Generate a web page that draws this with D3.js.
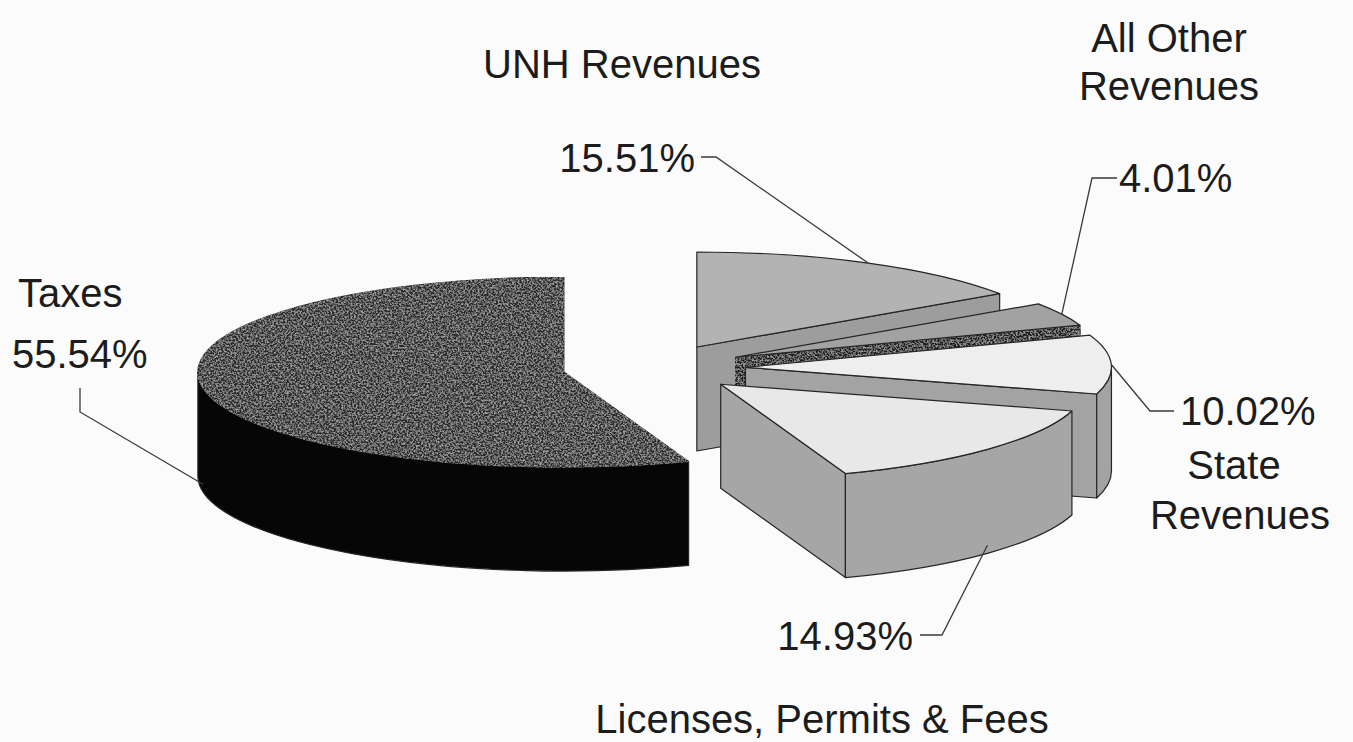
<!DOCTYPE html>
<html>
<head>
<meta charset="utf-8">
<script src="https://cdn.jsdelivr.net/npm/d3@7"></script>
<style>
  html, body { margin: 0; padding: 0; background: #fbfbfb; }
  svg { display: block; }
  text { font-family: "Liberation Sans", Arial, sans-serif; font-size: 40px; fill: #1c1c1c; }
</style>
</head>
<body>
<svg id="chart"></svg>
<script>
const width = 1353;
const height = 742;

// slices listed clockwise from the back of the pie
const categories = ["UNH Revenues", "All Other Revenues", "State Revenues", "Licenses, Permits & Fees", "Taxes"];
const shares = [15.51, 4.01, 10.02, 14.93, 55.54];
const pctLabels = ["15.51%", "4.01%", "10.02%", "14.93%", "55.54%"];

const topColors = ["#b3b3b3", "#a2a2a2", "#eeeeee", "#e8e8e8", "#2c2c2c"];
const sideColors = ["#9d9d9d", "#1a1a1a", "#a3a3a3", "#a6a6a6", "#060606"];

// pie geometry
const cx0 = 654, cy0 = 368;
const rx = 366, ry = 95, depth = 104;
const explode = 0.25;

const svg = d3.select("#chart")
    .attr("width", width)
    .attr("height", height);

const defs = svg.append("defs");
const speck = defs.append("filter").attr("id", "speck")
    .attr("x", 0).attr("y", 0).attr("width", 1).attr("height", 1);
speck.append("feTurbulence")
    .attr("type", "fractalNoise").attr("baseFrequency", 0.55)
    .attr("numOctaves", 3).attr("seed", 7).attr("result", "n");
speck.append("feColorMatrix").attr("in", "n").attr("type", "matrix")
    .attr("values", "0 0 0 0 0.38  0 0 0 0 0.38  0 0 0 0 0.38  2.6 0 0 0 -1.05")
    .attr("result", "g");
speck.append("feComposite").attr("in", "g").attr("in2", "SourceGraphic")
    .attr("operator", "in").attr("result", "m");
const merge = speck.append("feMerge");
merge.append("feMergeNode").attr("in", "SourceGraphic");
merge.append("feMergeNode").attr("in", "m");

const pie = d3.pie().sort(null).value(d => d)(shares);

function centerOf(s) {
    const m = (s.startAngle + s.endAngle) / 2;
    return [cx0 + explode * rx * Math.sin(m), cy0 - explode * ry * Math.cos(m)];
}
function rim(c, a, dy = 0) {
    return [c[0] + rx * Math.sin(a), c[1] - ry * Math.cos(a) + dy];
}

function topPath(c, a0, a1) {
    const p0 = rim(c, a0), p1 = rim(c, a1);
    const large = a1 - a0 > Math.PI ? 1 : 0;
    return `M${c[0]},${c[1]}L${p0[0]},${p0[1]}A${rx},${ry} 0 ${large} 1 ${p1[0]},${p1[1]}Z`;
}
function sidePath(c, a0, a1) {
    const p0 = rim(c, a0), p1 = rim(c, a1);
    const q0 = rim(c, a0, depth), q1 = rim(c, a1, depth);
    const large = a1 - a0 > Math.PI ? 1 : 0;
    return `M${p0[0]},${p0[1]}A${rx},${ry} 0 ${large} 1 ${p1[0]},${p1[1]}` +
        `L${q1[0]},${q1[1]}A${rx},${ry} 0 ${large} 0 ${q0[0]},${q0[1]}Z`;
}
function facePath(c, a) {
    const p = rim(c, a), q = rim(c, a, depth);
    return `M${c[0]},${c[1]}L${p[0]},${p[1]}L${q[0]},${q[1]}L${c[0]},${c[1] + depth}Z`;
}

const g = svg.append("g");

pie.forEach((s, i) => {
    const c = centerOf(s);
    const a0 = s.startAngle, a1 = s.endAngle;
    const slice = g.append("g").attr("class", "slice");
    const stroke = "#262626";
    const speckled = i === 1 || i === 4;

    // radial faces turned toward the viewer
    if (Math.sin(a0) < -1e-6) {
        slice.append("path").attr("d", facePath(c, a0))
            .attr("fill", sideColors[i]).attr("stroke", stroke).attr("stroke-width", 1.2)
            .attr("stroke-linejoin", "round");
    }
    if (Math.sin(a1) > 1e-6) {
        slice.append("path").attr("d", facePath(c, a1))
            .attr("fill", sideColors[i]).attr("stroke", stroke).attr("stroke-width", 1.2)
            .attr("stroke-linejoin", "round")
            .attr("filter", speckled ? "url(#speck)" : null);
    }
    // outer wall, front half only
    const s0 = Math.max(a0, Math.PI / 2), s1 = Math.min(a1, Math.PI * 1.5);
    if (s1 > s0) {
        slice.append("path").attr("d", sidePath(c, s0, s1))
            .attr("fill", sideColors[i]).attr("stroke", stroke).attr("stroke-width", 1.2)
            .attr("stroke-linejoin", "round");
    }
    // top
    slice.append("path").attr("d", topPath(c, a0, a1))
        .attr("fill", topColors[i]).attr("stroke", stroke).attr("stroke-width", 1.2)
        .attr("stroke-linejoin", "round")
        .attr("filter", i === 4 ? "url(#speck)" : null);
});

// labels: percentage text, elbow of the leader line, and name lines
const labelLayout = [
    { pct: [695, 172, "end"], elbow: [[701, 157], [716, 157]], name: [[622, 78, "UNH Revenues"]] },
    { pct: [1119, 192, "start"], elbow: [[1117, 178], [1092, 178]], name: [[1169, 52, "All Other"], [1169, 100, "Revenues"]] },
    { pct: [1180, 425, "start"], elbow: [[1174, 411], [1150, 411]], name: [[1234, 479, "State"], [1240, 529, "Revenues"]] },
    { pct: [913, 650, "end"], elbow: [[920, 635], [942, 635]], name: [[822, 733, "Licenses, Permits & Fees"]] },
    { pct: [12, 368, "start"], elbow: [[80, 388], [80, 412]], name: [[18, 307, "Taxes"]], nameAnchor: "start" }
];

const line = d3.line();
pie.forEach((s, i) => {
    const L = labelLayout[i];
    const c = centerOf(s);
    const m = (s.startAngle + s.endAngle) / 2;
    const anchor = rim(c, m, Math.cos(m) < 0 ? depth - 8 : 0);
    svg.append("path")
        .attr("d", line([L.elbow[0], L.elbow[1], anchor]))
        .attr("fill", "none").attr("stroke", "#3a3a3a").attr("stroke-width", 1.3);
    svg.append("text")
        .attr("x", L.pct[0]).attr("y", L.pct[1])
        .attr("text-anchor", L.pct[2])
        .text(pctLabels[i]);
    L.name.forEach(n => {
        svg.append("text")
            .attr("x", n[0]).attr("y", n[1])
            .attr("text-anchor", L.nameAnchor || "middle")
            .text(n[2]);
    });
});
</script>
</body>
</html>
